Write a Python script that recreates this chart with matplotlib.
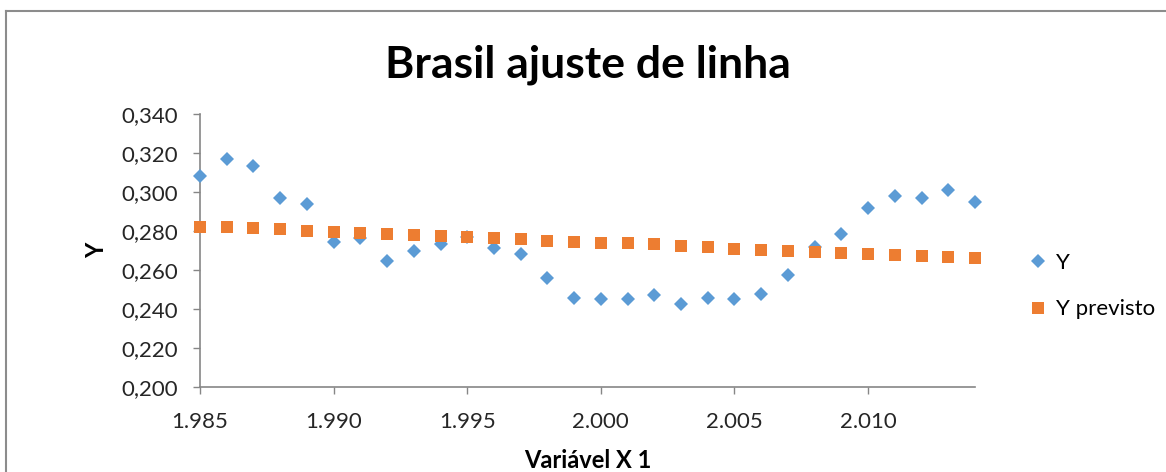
import matplotlib
matplotlib.use("Agg")
import matplotlib.pyplot as plt
from matplotlib.lines import Line2D
from matplotlib.ticker import FuncFormatter, MultipleLocator

plt.rcParams['font.family'] = ['Lato', 'DejaVu Sans']

# data
anos = list(range(1985, 2015))
y_obs = [0.308, 0.317, 0.3135, 0.297, 0.294, 0.2745, 0.2765, 0.2648, 0.2700, 0.2735,
         0.2770, 0.2714, 0.2680, 0.2561, 0.2455, 0.2450, 0.2450, 0.2470, 0.2424, 0.2456,
         0.2450, 0.2477, 0.2574, 0.2720, 0.2785, 0.2916, 0.2981, 0.2969, 0.3010, 0.2950]
y_prev = [0.2822, 0.2822, 0.2815, 0.2808, 0.2802, 0.2795, 0.2790, 0.2784, 0.2778, 0.2776,
          0.2771, 0.2763, 0.2757, 0.2750, 0.2743, 0.2738, 0.2736, 0.2731, 0.2724, 0.2718,
          0.2710, 0.2704, 0.2698, 0.2692, 0.2689, 0.2684, 0.2677, 0.2671, 0.2665, 0.2659]

azul = '#5B9BD5'
laranja = '#ED7D31'
cinza = '#868686'

fig = plt.figure(figsize=(11.66, 4.72), dpi=100)
ax = fig.add_axes([200/1166, 1-387/472, 775/1166, 273/472])

ax.plot(anos, y_obs, linestyle='none', marker='D', ms=6.8, color=azul,
        markeredgewidth=0, clip_on=False, label='Y', zorder=3)
ax.plot(anos, y_prev, linestyle='none', marker='s', ms=9, color=laranja,
        markeredgewidth=0, clip_on=False, label='Y previsto', zorder=4)

ax.set_xlim(1985, 2014)
ax.set_ylim(0.2, 0.34)
ax.xaxis.set_major_locator(MultipleLocator(5))
ax.yaxis.set_major_locator(MultipleLocator(0.02))
ax.xaxis.set_major_formatter(FuncFormatter(lambda v, p: f"{v:,.0f}".replace(",", ".")))
ax.yaxis.set_major_formatter(FuncFormatter(lambda v, p: f"{v:.3f}".replace(".", ",")))

for s in ['top', 'right']:
    ax.spines[s].set_visible(False)
for s in ['left', 'bottom']:
    ax.spines[s].set_color(cinza)
    ax.spines[s].set_linewidth(1.2)
ax.tick_params(axis='both', direction='out', length=5, width=1, color=cinza,
               labelsize=16, labelcolor='#262626')
ax.tick_params(axis='y', pad=11)
ax.tick_params(axis='x', pad=13)

ax.set_title('Brasil ajuste de linha', fontsize=32, fontweight='bold', pad=26)
ax.set_xlabel('Variável X 1', fontsize=17, fontweight='bold', labelpad=12)
ax.set_ylabel('Y', fontsize=17, fontweight='bold', labelpad=9)

ax.legend(loc='center left', bbox_to_anchor=(1018/1166, 1-286/472),
          bbox_transform=fig.transFigure, frameon=False, fontsize=16,
          handlelength=0.8, handletextpad=0.4, labelspacing=1.2, borderpad=0)

# moldura do gráfico
fig.add_artist(Line2D([6/1166, 1], [1-10.5/472, 1-10.5/472], color='#8c8c8c', lw=1.5))
fig.add_artist(Line2D([6/1166, 6/1166], [0, 1-10.5/472], color='#8c8c8c', lw=1.5))

fig.savefig('out.png', dpi=100)
